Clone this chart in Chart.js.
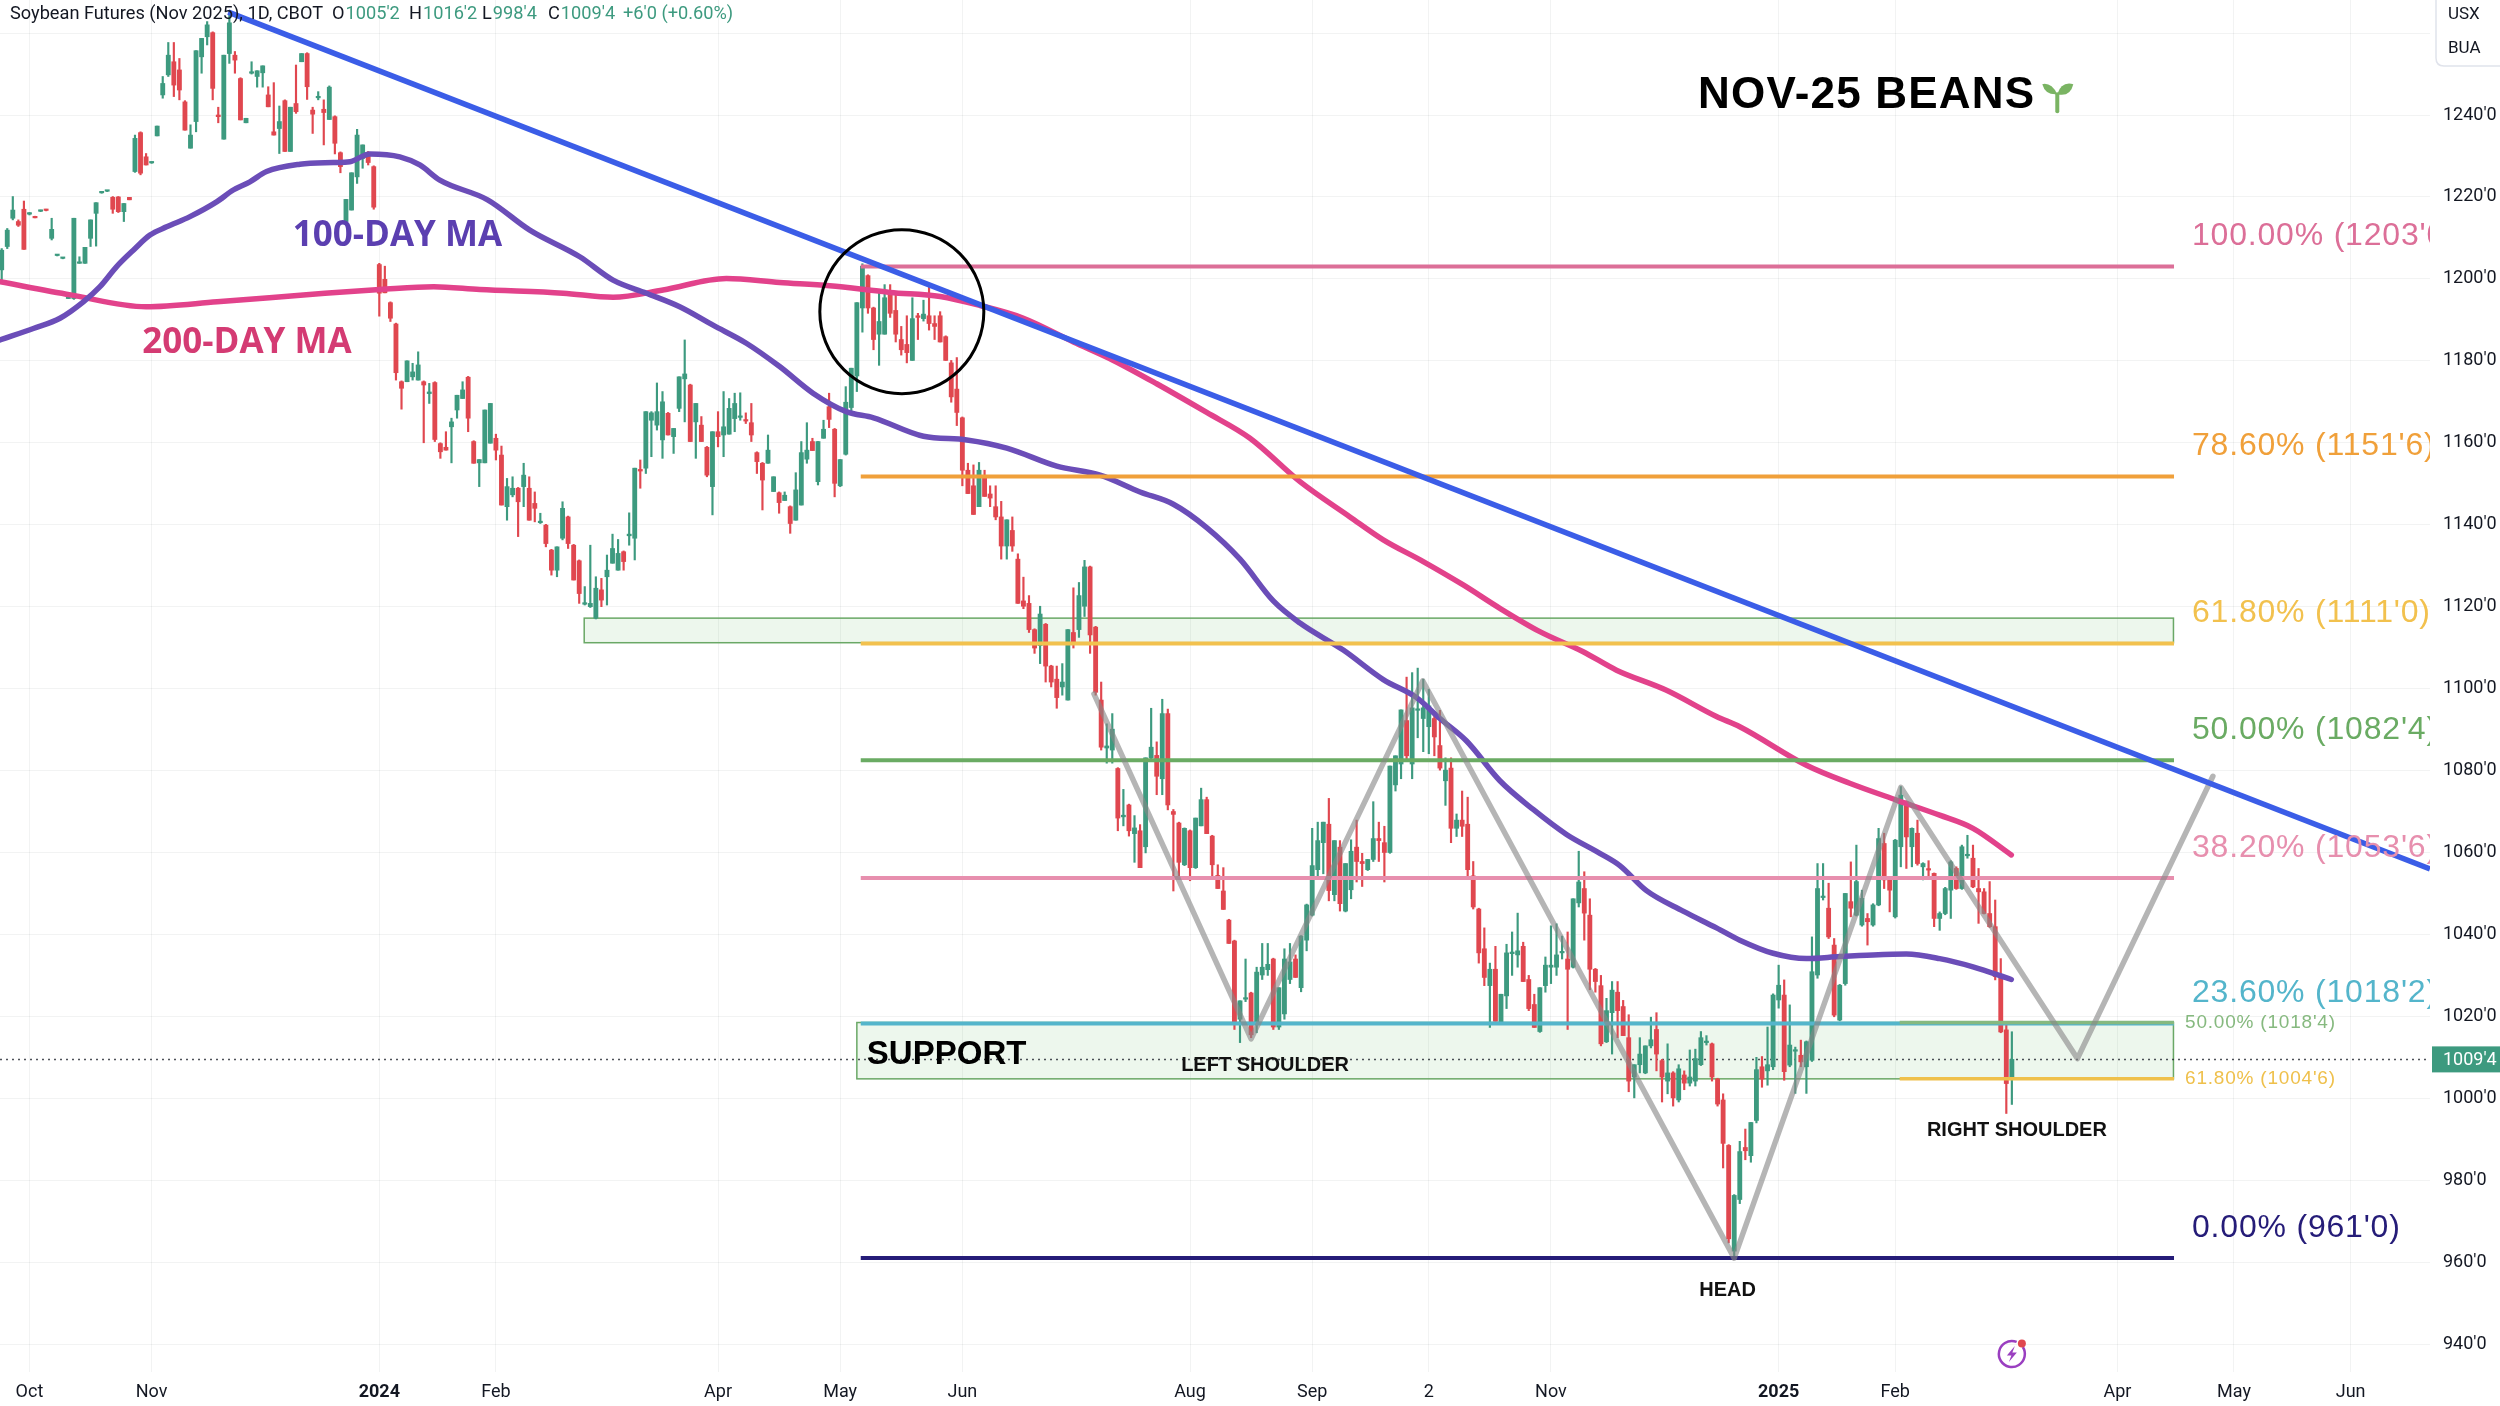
<!DOCTYPE html>
<html>
<head>
<meta charset="utf-8">
<title>Soybean Futures (Nov 2025)</title>
<script src="https://cdn.jsdelivr.net/npm/chart.js@4.4.1/dist/chart.umd.min.js"></script>
<style>
  html, body { margin: 0; padding: 0; background: #fff; }
  canvas { display: block; }
</style>
</head>
<body>
<canvas id="chart" width="2500" height="1406" style="width:2500px;height:1406px"></canvas>
<script>
// Daily candles, one per trading day from late Sep 2023 to early Mar 2025.
const opens = [
  1202.2,1207.9,1214.8,1214.0,1217.0,1215.8,1215.1,1216.5,1216.9,1209.9,
  1205.7,1205.0,1195.2,1195.2,1203.8,1203.8,1209.9,1216.0,1221.0,1221.4,
  1219.9,1220.0,1216.4,1219.9,1226.2,1235.7,1229.8,1228.3,1234.9,1244.9,
  1249.8,1253.0,1251.0,1243.2,1231.9,1238.4,1254.2,1259.1,1260.1,1240.0,
  1234.1,1255.0,1254.6,1248.9,1238.1,1250.2,1249.4,1250.3,1244.9,1235.9,
  1236.7,1243.5,1231.1,1242.8,1253.0,1255.0,1241.2,1244.2,1241.4,1238.9,
  1239.6,1230.8,1214.0,1216.8,1224.9,1229.4,1230.6,1227.4,1203.5,1199.9,
  1194.2,1189.0,1174.9,1174.9,1176.1,1175.3,1174.9,1172.0,1174.7,1159.8,
  1158.9,1163.9,1168.0,1170.8,1176.0,1160.3,1155.1,1155.1,1159.9,1161.1,
  1157.0,1144.4,1147.3,1148.9,1149.3,1148.9,1145.2,1140.5,1139.9,1133.8,
  1128.9,1136.7,1141.9,1135.0,1131.2,1120.6,1120.0,1117.2,1124.1,1127.3,
  1130.6,1128.9,1133.4,1137.3,1136.7,1153.5,1153.8,1165.5,1164.3,1160.7,
  1167.2,1161.5,1168.4,1175.6,1174.1,1165.1,1164.3,1158.9,1149.3,1162.7,
  1161.9,1162.1,1165.9,1166.2,1165.6,1164.9,1157.6,1155.0,1155.0,1148.1,
  1147.8,1145.9,1144.4,1141.1,1144.8,1156.0,1160.3,1150.5,1161.1,1168.8,
  1163.3,1149.5,1157.2,1168.6,1176.3,1192.9,1200.8,1192.9,1186.5,1186.5,
  1196.1,1192.3,1185.2,1184.0,1180.1,1191.0,1190.3,1191.0,1189.1,1191.0,
  1185.9,1179.5,1173.1,1166.1,1153.3,1149.5,1144.4,1151.4,1147.5,1144.4,
  1141.9,1134.8,1138.6,1131.6,1121.4,1120.8,1114.4,1110.5,1115.7,1105.5,
  1102.3,1100.4,1097.2,1113.7,1114.4,1120.1,1129.7,1115.0,1097.2,1085.5,
  1085.0,1080.5,1068.7,1071.6,1064.6,1065.3,1061.4,1083.1,1083.7,1078.0,
  1093.9,1070.0,1067.2,1057.0,1065.3,1056.3,1066.5,1072.9,1064.0,1054.4,
  1050.6,1043.5,1038.4,1019.3,1024.2,1025.7,1018.0,1030.1,1031.4,1034.0,
  1017.4,1020.6,1029.0,1034.0,1027.0,1038.6,1044.7,1055.8,1062.4,1066.9,
  1049.7,1061.3,1045.7,1050.9,1061.3,1057.8,1055.8,1058.3,1063.4,1062.4,
  1060.0,1076.5,1081.6,1092.2,1081.6,1094.7,1092.7,1090.7,1092.7,1086.1,
  1077.5,1080.6,1065.9,1067.9,1066.9,1054.3,1046.2,1036.5,1027.5,1031.5,
  1018.3,1025.0,1035.3,1035.0,1037.1,1029.0,1022.9,1016.3,1027.5,1032.0,
  1032.0,1035.5,1034.0,1032.0,1047.7,1051.2,1044.7,1031.5,1027.5,1013.8,
  1020.9,1025.9,1022.4,1014.8,1005.2,1008.2,1006.2,1012.8,1016.8,1009.2,
  1004.2,1006.2,999.6,1005.7,1003.7,1004.2,1008.2,1013.6,1013.3,1004.7,
  999.6,988.5,962.7,975.3,988.0,986.0,994.6,1007.7,1006.7,1007.7,
  1024.0,1025.2,1008.1,1011.5,1010.5,1007.7,1009.3,1030.1,1049.0,1046.4,
  1037.4,1019.1,1028.0,1048.0,1044.7,1042.3,1043.9,1042.3,1047.2,1062.2,
  1053.3,1044.3,1061.4,1072.4,1061.4,1064.7,1056.5,1056.0,1054.9,1043.9,
  1045.1,1050.8,1056.1,1051.2,1059.2,1058.6,1051.2,1050.4,1045.1,1041.9,
  1029.7,1016.7,1005.25
];
const highs = [
  1207.4,1212.3,1220.1,1214.4,1219.0,1216.2,1215.3,1216.8,1217.0,1214.8,
  1205.9,1205.2,1196.5,1214.8,1205.4,1207.7,1214.4,1218.6,1221.2,1221.6,
  1220.1,1220.1,1218.4,1219.9,1235.1,1235.9,1230.6,1228.6,1237.3,1249.4,
  1257.7,1257.7,1253.8,1243.5,1237.6,1255.7,1258.7,1262.8,1260.3,1241.9,
  1254.6,1264.8,1255.5,1249.1,1239.2,1253.0,1250.8,1252.0,1246.9,1247.9,
  1242.2,1243.7,1241.9,1252.2,1255.0,1255.2,1241.9,1245.7,1243.7,1247.1,
  1239.8,1231.0,1219.4,1225.9,1236.5,1232.7,1231.1,1227.6,1203.8,1203.1,
  1194.4,1189.2,1175.1,1180.0,1179.4,1182.2,1175.1,1174.5,1174.9,1160.0,
  1162.7,1166.0,1171.6,1174.9,1176.2,1160.5,1155.9,1168.0,1169.6,1162.1,
  1159.2,1151.3,1151.7,1149.1,1155.0,1151.7,1148.0,1142.8,1140.1,1134.0,
  1134.6,1145.6,1142.1,1135.2,1131.4,1124.9,1135.0,1127.3,1126.9,1132.6,
  1137.7,1136.4,1133.6,1142.9,1153.8,1155.8,1167.6,1167.6,1174.6,1172.5,
  1167.4,1163.5,1176.1,1185.1,1174.3,1169.6,1166.4,1159.1,1162.7,1167.6,
  1172.5,1170.8,1172.1,1172.2,1167.3,1169.6,1157.8,1155.2,1161.9,1151.7,
  1148.0,1148.0,1144.6,1152.7,1160.3,1164.9,1161.1,1160.3,1165.5,1172.1,
  1163.5,1155.9,1173.7,1178.2,1194.2,1203.7,1201.0,1193.1,1196.7,1198.6,
  1198.6,1196.7,1188.4,1191.0,1195.4,1191.6,1194.8,1198.0,1191.0,1192.0,
  1186.1,1180.1,1180.8,1166.3,1155.0,1154.6,1155.2,1153.3,1149.5,1149.5,
  1145.7,1141.2,1141.9,1132.9,1127.2,1122.7,1114.6,1120.1,1115.9,1105.7,
  1105.5,1106.1,1114.4,1124.6,1125.9,1131.3,1129.9,1115.2,1101.6,1091.4,
  1093.9,1080.7,1075.4,1071.8,1069.0,1066.8,1083.1,1095.2,1087.0,1097.4,
  1095.0,1070.5,1067.4,1066.0,1065.5,1068.4,1075.7,1073.5,1064.2,1057.0,
  1056.3,1043.7,1038.6,1023.8,1034.0,1025.9,1032.0,1037.8,1037.8,1034.2,
  1027.0,1036.5,1037.8,1035.0,1039.7,1047.4,1065.9,1067.4,1067.4,1073.2,
  1062.9,1062.9,1057.3,1063.1,1067.9,1059.8,1058.3,1072.4,1067.4,1066.4,
  1081.1,1083.6,1094.8,1102.8,1103.9,1105.0,1102.3,1099.8,1094.2,1094.7,
  1083.1,1083.1,1069.4,1075.0,1073.5,1057.8,1046.4,1041.6,1033.0,1037.1,
  1025.4,1037.6,1040.6,1045.2,1038.1,1030.0,1025.4,1027.0,1034.5,1042.1,
  1042.6,1039.6,1040.6,1048.7,1060.3,1055.3,1048.7,1031.7,1030.0,1024.4,
  1028.5,1028.5,1023.9,1020.4,1008.2,1014.8,1012.8,1019.8,1020.9,1009.5,
  1013.3,1006.5,1008.2,1006.7,1011.8,1012.0,1016.3,1015.3,1013.5,1004.9,
  1001.1,988.7,976.5,989.5,992.5,994.1,1010.0,1010.2,1017.4,1025.5,
  1032.5,1028.9,1022.8,1012.5,1014.2,1014.0,1039.4,1057.3,1057.3,1052.5,
  1039.0,1027.8,1050.0,1057.7,1061.8,1050.8,1045.1,1047.5,1065.9,1064.7,
  1053.5,1063.2,1076.1,1072.6,1066.0,1067.9,1057.5,1058.0,1055.0,1045.5,
  1051.5,1058.0,1056.5,1061.8,1064.2,1061.8,1056.1,1051.2,1052.9,1048.4,
  1034.1,1018.5,1016.25
];
const lows = [
  1199.7,1207.4,1214.4,1212.8,1207.2,1215.6,1214.9,1216.4,1216.6,1209.5,
  1205.6,1204.9,1195.2,1195.0,1203.8,1203.8,1207.9,1208.0,1220.9,1221.3,
  1216.0,1216.2,1214.0,1219.3,1226.0,1225.4,1227.8,1228.2,1234.9,1244.1,
  1249.4,1244.5,1243.7,1236.3,1231.9,1235.9,1250.2,1257.1,1243.7,1238.1,
  1234.1,1252.6,1250.2,1238.8,1238.1,1250.0,1246.8,1246.8,1242.0,1235.1,
  1230.6,1231.1,1231.1,1240.4,1253.0,1243.8,1235.5,1243.7,1232.7,1238.9,
  1230.5,1225.9,1214.0,1216.8,1223.3,1227.0,1227.8,1217.0,1190.9,1196.6,
  1189.6,1175.3,1168.2,1174.9,1175.3,1175.3,1160.0,1169.6,1160.3,1156.2,
  1158.2,1155.1,1166.0,1170.8,1162.7,1155.0,1149.3,1155.1,1159.9,1155.8,
  1144.8,1141.1,1146.8,1137.1,1144.4,1141.1,1140.7,1140.3,1134.6,1127.7,
  1127.3,1136.3,1134.2,1126.5,1120.8,1120.4,1119.8,1117.0,1120.0,1120.4,
  1130.6,1128.9,1128.9,1135.0,1131.4,1148.9,1152.5,1156.6,1163.1,1156.2,
  1161.9,1157.4,1167.6,1165.1,1160.3,1156.2,1160.3,1151.7,1142.4,1159.0,
  1156.6,1162.1,1162.7,1165.5,1164.7,1160.3,1152.5,1143.6,1155.0,1148.1,
  1142.8,1145.9,1137.9,1141.1,1144.8,1155.0,1158.1,1149.7,1161.1,1163.7,
  1146.8,1149.3,1157.0,1167.0,1172.5,1187.0,1191.6,1182.7,1178.9,1186.5,
  1190.6,1184.6,1181.4,1179.5,1180.1,1185.2,1189.7,1187.5,1185.2,1184.6,
  1180.1,1169.9,1164.2,1149.5,1147.6,1142.5,1144.4,1146.9,1144.4,1141.2,
  1131.6,1131.6,1133.5,1120.8,1119.5,1113.7,1108.6,1106.1,1101.6,1100.4,
  1095.2,1098.4,1097.2,1109.9,1112.5,1117.6,1108.6,1098.4,1085.0,1081.8,
  1081.8,1065.3,1066.5,1064.0,1057.6,1056.3,1059.9,1082.4,1074.1,1074.1,
  1070.4,1050.6,1053.8,1056.8,1053.1,1056.1,1066.5,1064.6,1053.8,1051.2,
  1046.1,1037.8,1016.8,1013.6,1023.6,1014.8,1016.0,1029.0,1030.0,1016.8,
  1016.8,1019.3,1028.0,1029.5,1026.0,1036.0,1044.5,1054.0,1054.8,1048.2,
  1048.2,1045.7,1045.5,1048.7,1052.8,1051.7,1055.6,1057.8,1057.8,1052.8,
  1059.8,1075.0,1078.0,1082.6,1078.0,1088.0,1084.6,1084.1,1083.6,1080.1,
  1071.5,1062.4,1063.9,1063.9,1054.3,1046.2,1033.0,1027.5,1017.3,1018.8,
  1018.1,1021.9,1030.0,1032.0,1028.5,1021.4,1017.3,1016.1,1025.9,1028.0,
  1030.0,1034.0,1016.8,1031.8,1046.7,1038.6,1026.5,1025.9,1012.8,1013.6,
  1010.8,1014.8,1015.3,1001.6,1000.1,1006.2,1006.0,1012.3,1006.7,999.1,
  1001.1,998.1,999.1,1002.1,1003.0,1003.0,1008.0,1013.0,1004.2,998.1,
  983.0,964.7,961.0,974.3,985.0,984.4,994.0,1002.7,1003.2,1007.0,
  1022.0,1004.4,1007.7,1001.2,1007.7,1001.2,1009.0,1029.3,1048.4,1039.0,
  1019.9,1018.9,1027.6,1044.3,1044.5,1042.0,1037.4,1042.0,1047.0,1051.2,
  1045.5,1044.0,1056.5,1056.1,1056.5,1056.9,1053.3,1053.7,1041.9,1041.0,
  1044.8,1043.9,1051.0,1051.0,1058.6,1051.4,1042.7,1045.0,1041.7,1028.9,
  1016.0,996.3,998.5
];
const closes = [
  1207.0,1211.9,1216.8,1213.1,1207.2,1216.0,1214.9,1216.7,1216.7,1212.1,
  1205.8,1205.1,1196.5,1214.8,1204.0,1207.7,1214.4,1218.6,1221.1,1221.5,
  1217.0,1216.4,1218.4,1219.3,1234.3,1225.8,1227.8,1228.4,1237.3,1247.7,
  1254.6,1247.3,1246.1,1236.3,1235.1,1255.7,1258.7,1262.0,1246.5,1239.6,
  1254.6,1262.5,1253.4,1238.8,1239.2,1250.4,1250.8,1252.0,1242.0,1235.1,
  1238.4,1231.1,1241.9,1240.8,1255.0,1246.9,1240.2,1244.5,1240.6,1246.8,
  1233.1,1227.4,1219.4,1225.9,1235.1,1232.7,1228.4,1217.5,1196.5,1196.6,
  1190.4,1177.1,1173.3,1180.0,1177.3,1179.0,1174.1,1172.4,1160.8,1157.8,
  1158.2,1165.1,1171.6,1172.9,1166.0,1155.0,1155.9,1168.0,1169.6,1158.2,
  1144.8,1149.3,1148.9,1145.6,1152.1,1141.1,1144.0,1140.8,1135.4,1128.9,
  1134.6,1144.0,1135.4,1126.5,1123.2,1120.8,1120.8,1124.5,1121.6,1128.9,
  1134.2,1133.0,1131.0,1137.7,1153.8,1153.1,1167.6,1167.3,1167.6,1170.0,
  1161.9,1163.5,1176.1,1176.8,1160.3,1169.6,1160.3,1152.1,1162.7,1161.5,
  1163.9,1168.4,1169.6,1166.5,1165.3,1161.9,1155.4,1150.9,1158.2,1151.7,
  1145.4,1147.2,1140.3,1148.5,1157.6,1158.2,1158.1,1160.3,1163.3,1165.7,
  1150.1,1155.9,1169.9,1178.2,1194.2,1203.1,1192.9,1185.2,1189.6,1195.4,
  1191.6,1186.5,1182.7,1182.0,1190.3,1190.6,1191.4,1189.1,1188.4,1184.6,
  1180.1,1171.2,1167.4,1153.3,1147.6,1142.5,1153.3,1146.9,1146.5,1141.9,
  1134.8,1141.2,1134.8,1120.8,1120.1,1114.4,1109.9,1118.2,1105.5,1101.6,
  1097.8,1101.6,1114.4,1111.2,1122.7,1129.7,1113.1,1099.1,1085.7,1086.0,
  1090.1,1068.4,1069.1,1065.3,1066.0,1056.3,1083.1,1085.7,1078.6,1093.9,
  1071.6,1069.3,1057.6,1065.9,1056.3,1068.4,1072.9,1064.6,1057.0,1051.2,
  1046.1,1037.8,1018.0,1023.8,1024.4,1015.5,1030.8,1032.0,1032.7,1017.4,
  1027.0,1034.0,1033.3,1029.5,1039.6,1047.2,1056.8,1062.9,1067.4,1050.7,
  1062.9,1047.5,1057.3,1060.3,1057.8,1057.3,1058.3,1063.4,1062.9,1060.0,
  1081.1,1083.6,1094.8,1083.6,1095.3,1094.9,1095.3,1095.8,1088.2,1080.6,
  1080.1,1065.9,1067.9,1066.4,1055.8,1046.7,1035.5,1029.5,1031.5,1018.8,
  1025.4,1035.5,1035.7,1036.0,1028.5,1021.9,1017.3,1027.0,1032.5,1032.5,
  1035.0,1035.7,1031.5,1048.7,1052.8,1045.2,1031.5,1028.5,1013.3,1021.4,
  1026.4,1021.4,1015.3,1004.2,1008.2,1010.8,1012.8,1014.3,1010.8,1005.2,
  1006.2,1000.1,1007.2,1003.7,1005.2,1009.7,1014.8,1013.8,1005.2,998.6,
  989.0,965.7,976.3,987.0,987.2,994.1,1007.0,1004.7,1008.2,1025.2,
  1027.6,1006.5,1013.0,1011.8,1008.9,1013.8,1030.9,1051.2,1049.2,1039.4,
  1020.3,1027.6,1050.0,1046.4,1052.9,1048.8,1043.1,1047.2,1063.4,1053.3,
  1050.8,1063.0,1074.0,1063.8,1065.9,1057.3,1057.3,1055.7,1043.9,1045.1,
  1051.2,1057.7,1051.2,1061.4,1059.4,1051.6,1050.4,1045.1,1041.9,1029.7,
  1016.2,1003.6,1009.5
];

// Moving averages, traced as [bar index, price]
const ma100 = [
  [-0.3,1185.1],[5.7,1187.9],[10.5,1190.4],[14.7,1194.4],[17.7,1198.1],[20.7,1203.0],
  [23.7,1207.0],[26.7,1210.7],[29.7,1212.7],[33.9,1215.2],[38.7,1218.8],[41.7,1221.7],
  [44.7,1223.7],[47.7,1226.2],[53.7,1228.0],[59.7,1228.4],[62.7,1228.6],[66.3,1230.5],
  [71.7,1229.8],[75.3,1227.8],[78.9,1224.1],[87.5,1219.3],[95.1,1211.9],[104.1,1205.4],
  [110.1,1199.7],[116.1,1196.5],[122.1,1193.2],[128.1,1188.7],[134.1,1184.3],[140.1,1178.6],
  [146.1,1172.1],[152.1,1167.6],[157,1166.1],[166,1161.6],[173.8,1160.7],[181,1158.7],
  [190,1154.3],[197.8,1152.1],[205,1148.0],[211,1145.0],[217,1139.3],[223,1131.6],
  [229,1121.4],[233.8,1116.0],[241.6,1109.4],[248.8,1102.2],[254.8,1097.8],[259,1092.7],
  [263.8,1087.2],[269.8,1077.5],[275.8,1070.5],[281.8,1064.4],[287.8,1059.8],[291.4,1056.8],
  [296.2,1050.7],[302.8,1045.7],[308.8,1041.6],[313,1038.6],[319,1035.4],[325,1034.1],
  [331,1034.6],[337,1035.0],[343,1035.2],[349,1034.1],[355,1032.1],[361.9,1029.0]
];
const ma200 = [
  [-0.3,1199.3],[12.4,1196.1],[26.0,1193.2],[38.8,1194.4],[58.2,1196.5],[68.1,1197.4],
  [77.8,1198.1],[86.1,1197.4],[101.1,1196.5],[110.1,1195.5],[119.1,1197.3],[130.5,1200.1],
  [140.1,1199.1],[149.1,1198.3],[160,1196.7],[169,1195.7],[176.2,1193.5],[184,1190.4],
  [193,1184.6],[200.2,1180.1],[208,1174.4],[217,1167.4],[224.8,1161.1],[233.8,1150.5],
  [242.8,1141.9],[248.8,1136.3],[256,1131.0],[263.2,1125.3],[269.8,1119.6],[277,1113.9],
  [284.8,1109.0],[290.8,1104.5],[299.8,1099.6],[308.8,1093.2],[313,1090.7],[325,1081.3],
  [332.8,1076.9],[341.2,1072.8],[349,1069.1],[355,1065.9],[361.9,1059.4]
];

// Axis ticks (bar index of each month label)
const monthTickIdx = [5, 27, 68, 89, 129, 151, 173, 214, 236, 257, 279, 320, 341, 381, 402, 423];
const monthTickLabels = ['Oct','Nov','2024','Feb','Apr','May','Jun','Aug','Sep','2','Nov','2025','Feb','Apr','May','Jun'];
const yearTickIdx = [68, 320];
const priceTicks = [940,960,980,1000,1020,1040,1060,1080,1100,1120,1140,1160,1180,1200,1220,1240,1260];

// Fibonacci retracement (961'0 -> 1203'0)
const fibLevels = [100, 78.6, 61.8, 50, 38.2, 23.6, 0];
const fibPrices = [1203, 1151.75, 1111, 1082.5, 1053.75, 1018.25, 961];
const fibPriceText = ["1203'0", "1151'6", "1111'0", "1082'4", "1053'6", "1018'2", "961'0"];
const fibColors = ['#dc6f98', '#f0a03a', '#f2c14e', '#6aab63', '#e78fae', '#54b5cb', '#251c78'];
const fibStart = 154.7, fibEnd = 391.2;

// small fib inside the support zone
const miniFibLevels = [50, 61.8];
const miniFibPrices = [1018.5, 1004.75];
const miniFibText = ["1018'4", "1004'6"];
const miniFibColors = ['#86b97f', '#efc04b'];
const miniFibStart = 341.8;

// support zones [left idx, right idx, top, bottom]
const zoneLeft = [104.9, 154.0];
const zoneRight = [391.1, 391.1];
const zoneTop = [1117.2, 1018.5];
const zoneBottom = [1111.2, 1004.75];

// drawn lines
const trendX = [40.8, 437.3];
const trendY = [1265.1, 1056.0];
const hsX = [196.7, 225.0, 255.9, 312.0, 342.0, 373.8, 398.2];
const hsY = [1098.7, 1014.5, 1101.9, 961.0, 1075.9, 1009.7, 1078.6];
const circleIdx = 162.1, circlePrice = 1192.0;

// text notes
const noteText = ['100-DAY MA', '200-DAY MA', 'NOV-25 BEANS', 'SUPPORT', 'LEFT SHOULDER', 'RIGHT SHOULDER', 'HEAD'];
const noteIdx = [52.4, 25.3, 305.5, 155.8, 212.4, 346.7, 305.7];
const notePrice = [1210.5, 1184.4, 1244.6, 1010.6, 1008.1, 992.1, 953.1];

const headerTitle = 'Soybean Futures (Nov 2025), 1D, CBOT';
const headerKeys = ['O', 'H', 'L', 'C'];
const headerVals = ["1005'2", "1016'2", "998'4", "1009'4"];
const headerChange = "+6'0 (+0.60%)";
const lastPrice = 1009.5;
const lastPriceText = "1009'4";

const UP = '#3d9a7f';
const DOWN = '#e0474f';
const GRID = 'rgba(42,46,57,0.06)';

const idx = opens.map((_, i) => i);
const candleColors = idx.map(i => (closes[i] >= opens[i] ? UP : DOWN));

function hLine(x0, x1, y, color, width, order) {
  return {
    type: 'line', data: [{ x: x0, y: y }, { x: x1, y: y }],
    borderColor: color, borderWidth: width, pointRadius: 0, fill: false,
    borderCapStyle: 'butt', order: order, clip: 0
  };
}

const datasets = [
  {
    type: 'bar', label: 'wicks', grouped: false, order: 11,
    data: idx.map(i => ({ x: i, y: [lows[i], highs[i]] })),
    backgroundColor: candleColors, barThickness: 1.5, borderWidth: 0
  },
  {
    type: 'bar', label: 'bodies', grouped: false, order: 10,
    data: idx.map(i => ({ x: i, y: [opens[i], closes[i]] })),
    backgroundColor: candleColors, barThickness: 4.2, borderWidth: 0, minBarLength: 1.5
  },
  {
    type: 'line', label: '200-day', order: 6,
    data: ma200.map(p => ({ x: p[0], y: p[1] })),
    borderColor: '#e2428b', borderWidth: 5.5, pointRadius: 0, fill: false,
    cubicInterpolationMode: 'monotone', borderCapStyle: 'round', clip: 0
  },
  {
    type: 'line', label: '100-day', order: 5,
    data: ma100.map(p => ({ x: p[0], y: p[1] })),
    borderColor: '#6b4db8', borderWidth: 5.5, pointRadius: 0, fill: false,
    cubicInterpolationMode: 'monotone', borderCapStyle: 'round', clip: 0
  }
];
fibPrices.forEach((p, k) => datasets.push(hLine(fibStart, fibEnd, p, fibColors[k], 4, 4)));
miniFibPrices.forEach((p, k) => datasets.push(hLine(miniFibStart, fibEnd, p, miniFibColors[k], 3.5, 3)));
datasets.push({
  type: 'line', label: 'H&S', order: 2,
  data: hsX.map((x, k) => ({ x: x, y: hsY[k] })),
  borderColor: 'rgba(135,135,135,0.62)', borderWidth: 5.5, pointRadius: 0, fill: false,
  borderJoinStyle: 'round', borderCapStyle: 'round', clip: 0
});
datasets.push({
  type: 'line', label: 'trend', order: 1,
  data: trendX.map((x, k) => ({ x: x, y: trendY[k] })),
  borderColor: '#3b5de7', borderWidth: 5.5, pointRadius: 0, fill: false, clip: 0
});

const overlay = {
  id: 'overlay',
  beforeDatasetsDraw(chart) {
    const { ctx, chartArea: a, scales: { x, y } } = chart;
    ctx.save();
    // support zones
    for (let k = 0; k < zoneLeft.length; k++) {
      const x0 = x.getPixelForValue(zoneLeft[k]);
      const x1 = x.getPixelForValue(zoneRight[k]);
      const y0 = y.getPixelForValue(zoneTop[k]);
      const y1 = y.getPixelForValue(zoneBottom[k]);
      ctx.fillStyle = 'rgba(76,175,80,0.10)';
      ctx.fillRect(x0, y0, x1 - x0, y1 - y0);
      ctx.strokeStyle = '#6aa866';
      ctx.lineWidth = 1.5;
      ctx.strokeRect(x0, y0, x1 - x0, y1 - y0);
    }
    // last price dotted line
    const py = y.getPixelForValue(lastPrice);
    ctx.setLineDash([2, 4]);
    ctx.strokeStyle = 'rgba(19,23,34,0.75)';
    ctx.lineWidth = 1.5;
    ctx.beginPath();
    ctx.moveTo(a.left, py);
    ctx.lineTo(a.right, py);
    ctx.stroke();
    ctx.restore();
  },
  afterDatasetsDraw(chart) {
    const { ctx, chartArea: a, scales: { x, y } } = chart;
    ctx.save();
    ctx.beginPath();
    ctx.rect(a.left, a.top, a.right - a.left, a.bottom - a.top);
    ctx.clip();

    // the circle around the May 2024 rejection
    ctx.strokeStyle = '#000';
    ctx.lineWidth = 3;
    ctx.beginPath();
    ctx.arc(x.getPixelForValue(circleIdx), y.getPixelForValue(circlePrice), 82, 0, Math.PI * 2);
    ctx.stroke();

    // fib labels
    ctx.textBaseline = 'middle';
    ctx.textAlign = 'left';
    ctx.letterSpacing = '0.8px';
    ctx.font = '32px "Liberation Sans", Arial, sans-serif';
    const lx = x.getPixelForValue(fibEnd) + 18;
    fibLevels.forEach((lvl, k) => {
      ctx.fillStyle = fibColors[k];
      ctx.fillText(lvl.toFixed(2) + '% (' + fibPriceText[k] + ')', lx, y.getPixelForValue(fibPrices[k]) - 30);
    });
    ctx.font = '19px "Liberation Sans", Arial, sans-serif';
    ctx.letterSpacing = '0.8px';
    miniFibLevels.forEach((lvl, k) => {
      ctx.fillStyle = miniFibColors[k];
      ctx.fillText(lvl.toFixed(2) + '% (' + miniFibText[k] + ')', lx - 7, y.getPixelForValue(miniFibPrices[k]));
    });
    ctx.letterSpacing = '0px';

    // notes
    const noteFont = [
      'bold 35px "Open Sans", sans-serif', 'bold 35px "Open Sans", sans-serif',
      'bold 44px "Liberation Sans", Arial, sans-serif', 'bold 33px "Liberation Sans", Arial, sans-serif',
      'bold 20px "Liberation Sans", Arial, sans-serif', 'bold 20px "Liberation Sans", Arial, sans-serif',
      'bold 20px "Liberation Sans", Arial, sans-serif'
    ];
    const noteSpacing = ['0px', '0px', '1.2px', '0px', '0px', '0px', '0px'];
    const noteColor = ['#5b3fb0', '#d43b73', '#000', '#000', '#111', '#111', '#111'];
    noteText.forEach((t, k) => {
      ctx.font = noteFont[k];
      ctx.letterSpacing = noteSpacing[k];
      ctx.fillStyle = noteColor[k];
      ctx.fillText(t, x.getPixelForValue(noteIdx[k]), y.getPixelForValue(notePrice[k]));
    });

    // seedling after the title
    ctx.font = noteFont[2];
    ctx.letterSpacing = noteSpacing[2];
    const sx = x.getPixelForValue(noteIdx[2]) + ctx.measureText(noteText[2]).width + 22;
    const sy = y.getPixelForValue(notePrice[2]);
    ctx.letterSpacing = '0px';
    ctx.fillStyle = '#7ab463';
    ctx.strokeStyle = '#7ab463';
    ctx.lineWidth = 4;
    ctx.lineCap = 'round';
    ctx.beginPath();
    ctx.moveTo(sx, sy + 15);
    ctx.lineTo(sx, sy - 2);
    ctx.stroke();
    ctx.beginPath();
    ctx.moveTo(sx, sy - 2);
    ctx.quadraticCurveTo(sx - 6, sy - 14, sx - 15, sy - 12);
    ctx.quadraticCurveTo(sx - 12, sy - 1, sx, sy - 2);
    ctx.fill();
    ctx.beginPath();
    ctx.moveTo(sx, sy - 2);
    ctx.quadraticCurveTo(sx + 4, sy - 15, sx + 16, sy - 12);
    ctx.quadraticCurveTo(sx + 13, sy + 1, sx, sy - 2);
    ctx.fill();
    ctx.restore();
  },
  afterDraw(chart) {
    const { ctx, chartArea: a, scales: { x, y } } = chart;
    ctx.save();
    ctx.textBaseline = 'middle';
    ctx.textAlign = 'left';

    // header line
    ctx.font = '19px Roboto, sans-serif';
    const fit = 19 * 314 / ctx.measureText(headerTitle).width;
    const hf = Math.min(21, fit).toFixed(1) + 'px Roboto, sans-serif';
    ctx.font = hf;
    ctx.fillStyle = '#131722';
    ctx.fillText(headerTitle, 10, 14);
    const keyX = [332, 409, 482, 548];
    headerKeys.forEach((key, k) => {
      ctx.fillStyle = '#131722';
      ctx.fillText(key, keyX[k], 14);
      ctx.fillStyle = UP;
      ctx.fillText(headerVals[k], keyX[k] + ctx.measureText(key).width + 1, 14);
    });
    ctx.fillStyle = UP;
    ctx.fillText(headerChange, 623, 14);

    // currency / unit box
    ctx.fillStyle = '#fff';
    ctx.strokeStyle = '#e0e3eb';
    ctx.lineWidth = 1.5;
    ctx.beginPath();
    ctx.moveTo(2436, -2);
    ctx.lineTo(2436, 58);
    ctx.quadraticCurveTo(2436, 66, 2444, 66);
    ctx.lineTo(2502, 66);
    ctx.lineTo(2502, -2);
    ctx.closePath();
    ctx.fill();
    ctx.stroke();
    ctx.fillStyle = '#131722';
    ctx.font = '17px Roboto, sans-serif';
    ctx.fillText('USX', 2448, 15);
    ctx.fillText('BUA', 2448, 49);

    // last price tag
    const py = y.getPixelForValue(lastPrice);
    ctx.fillStyle = '#3d9a7f';
    ctx.fillRect(a.right + 2, py - 13, 2500 - a.right - 2, 26);
    ctx.fillStyle = '#fff';
    ctx.font = '18px Roboto, sans-serif';
    ctx.fillText(lastPriceText, a.right + 13, py + 1);

    // small replay icon at the bottom
    const ix = x.getPixelForValue(362), iy = a.bottom - 18;
    ctx.strokeStyle = '#9a3fc0';
    ctx.lineWidth = 2.5;
    ctx.beginPath();
    ctx.arc(ix, iy, 13, -Math.PI * 0.18, Math.PI * 1.62);
    ctx.stroke();
    ctx.fillStyle = '#e0474f';
    ctx.beginPath();
    ctx.arc(ix + 10, iy - 10.5, 4, 0, Math.PI * 2);
    ctx.fill();
    ctx.fillStyle = '#9a3fc0';
    ctx.beginPath();
    ctx.moveTo(ix + 3, iy - 8);
    ctx.lineTo(ix - 5, iy + 1.5);
    ctx.lineTo(ix - 0.5, iy + 1.5);
    ctx.lineTo(ix - 3, iy + 8);
    ctx.lineTo(ix + 5, iy - 1.5);
    ctx.lineTo(ix + 0.5, iy - 1.5);
    ctx.closePath();
    ctx.fill();
    ctx.restore();
  }
};

new Chart(document.getElementById('chart'), {
  data: { datasets: datasets },
  plugins: [overlay],
  options: {
    responsive: false,
    animation: false,
    devicePixelRatio: 1,
    layout: { padding: 0 },
    plugins: { legend: { display: false }, tooltip: { enabled: false } },
    scales: {
      x: {
        type: 'linear', min: -0.306, max: 437.3, offset: false,
        afterBuildTicks: s => { s.ticks = monthTickIdx.map(v => ({ value: v })); },
        afterFit: s => { s.height = 34; s.paddingLeft = 0; s.paddingRight = 0; },
        ticks: {
          autoSkip: false, maxRotation: 0, padding: 10, color: '#131722',
          font: c => ({ family: 'Roboto, sans-serif', size: 18,
            weight: c.tick && yearTickIdx.includes(c.tick.value) ? 'bold' : 'normal' }),
          callback: (v, i) => monthTickLabels[i]
        },
        grid: { color: GRID, drawTicks: false, offset: false },
        border: { display: false }
      },
      y: {
        type: 'linear', position: 'right', min: 933.2, max: 1268.07,
        afterBuildTicks: s => { s.ticks = priceTicks.map(v => ({ value: v })); },
        afterFit: s => { s.width = 70; s.paddingTop = 0; s.paddingBottom = 0; },
        ticks: {
          padding: 13, color: '#131722', font: { family: 'Roboto, sans-serif', size: 18 },
          callback: v => (v >= 1260 ? '' : v + "'0")
        },
        grid: { color: GRID, drawTicks: false },
        border: { display: false }
      }
    }
  }
});
</script>
</body>
</html>
